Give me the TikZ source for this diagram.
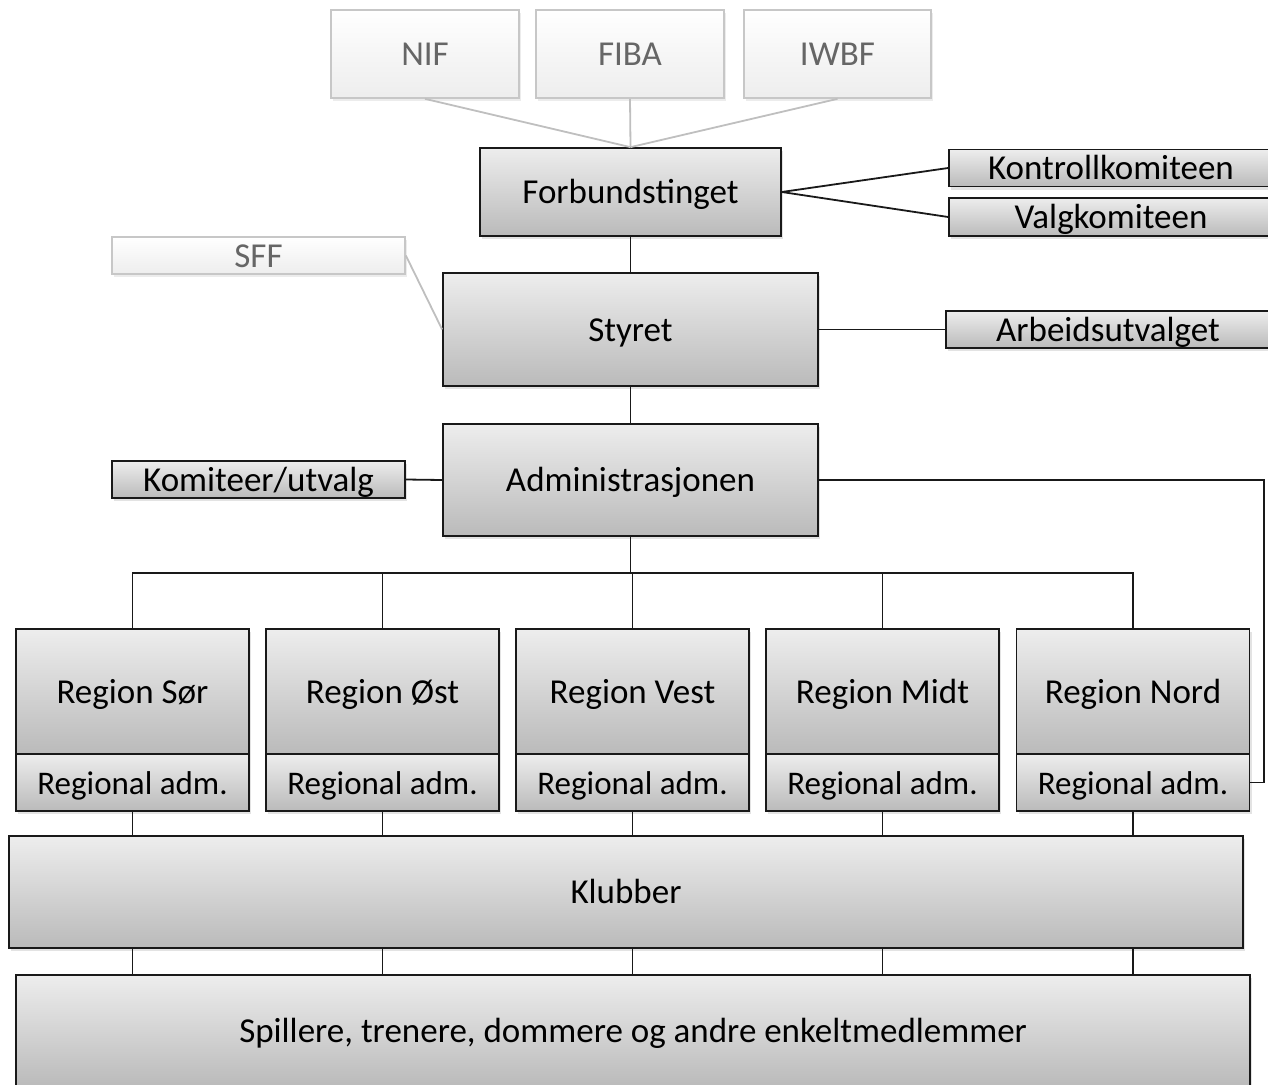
\documentclass[tikz,border=0pt]{standalone}
\usepackage{fontspec}
\setmainfont{Carlito}
\usetikzlibrary{shadows}
\begin{document}
\begin{tikzpicture}[x=1pt,y=-1pt,
  box/.style={draw=black!90, line width=1.7pt, top color=black!7, bottom color=black!27,
    font=\fontsize{35}{40}\selectfont, inner sep=0pt, text height=30pt, text depth=7pt,
    drop shadow={opacity=0.22, shadow xshift=2pt, shadow yshift=-3pt}},
  ghost/.style={draw=black!22, line width=1.7pt, top color=white, bottom color=black!7,
    text=black!60, font=\fontsize{35}{40}\selectfont, inner sep=0pt, text height=30pt, text depth=7pt,
    drop shadow={opacity=0.15, shadow xshift=2pt, shadow yshift=-3pt}},
  conn/.style={line width=1.8pt, draw=black!90},
  gconn/.style={line width=1.8pt, draw=black!25}]
\useasboundingbox (0,0) rectangle (1268,1084);
\clip (0,0) rectangle (1268,1084);
% top external bodies
\node[ghost, minimum width=188pt, minimum height=88pt] (nif) at (425,54) {NIF};
\node[ghost, minimum width=188pt, minimum height=88pt] (fiba) at (630,54) {FIBA};
\node[ghost, minimum width=187pt, minimum height=88pt] (iwbf) at (837.5,54) {IWBF};
\node[box, minimum width=301pt, minimum height=88pt] (forb) at (630.5,192) {Forbundstinget};
\node[box, minimum width=324pt, minimum height=36pt] (kontroll) at (1111,168) {Kontrollkomiteen};
\node[box, minimum width=324pt, minimum height=38pt] (valg) at (1111,217) {Valgkomiteen};
\node[box, minimum width=375pt, minimum height=113pt] (styret) at (630.5,329.5) {Styret};
\node[ghost, minimum width=293pt, minimum height=37pt] (sff) at (258.5,255.5) {SFF};
\node[box, minimum width=324pt, minimum height=37pt] (arb) at (1108,329.5) {Arbeidsutvalget};
\node[box, minimum width=375pt, minimum height=112pt] (admin) at (630.5,480) {Administrasjonen};
\node[box, minimum width=293pt, minimum height=37pt] (komiteer) at (258.5,479.5) {Komiteer/utvalg};
% regions
\foreach \n/\x/\t in {sor/132.5/Region Sør, ost/382.5/Region Øst, vest/632.5/Region Vest, midt/882.5/Region Midt, nord/1133/Region Nord}{
  \node[box, minimum width=233pt, minimum height=125pt] (\n) at (\x,691.5) {\t};
  \node[box, minimum width=233pt, minimum height=57pt, font=\fontsize{33}{38}\selectfont] (\n adm) at (\x,782.5) {Regional adm.};
}
\node[box, minimum width=1234pt, minimum height=112pt] (klubber) at (626,892) {Klubber};
\node[box, minimum width=1234pt, minimum height=112pt] (medl) at (633,1031) {Spillere, trenere, dommere og andre enkeltmedlemmer};
% connectors
\draw[gconn] (nif.south) -- (forb.north);
\draw[gconn] (fiba.south) -- (forb.north);
\draw[gconn] (iwbf.south) -- (forb.north);
\draw[gconn] (sff.east) -- (styret.west);
\draw[conn] (forb.east) -- (kontroll.west);
\draw[conn] (forb.east) -- (valg.west);
\draw[conn] (forb.south) -- (styret.north);
\draw[conn] (styret.east) -- (arb.west);
\draw[conn] (styret.south) -- (admin.north);
\draw[conn] (komiteer.east) -- (admin.west);
\coordinate (rt) at (1264,480);
\draw[conn] (admin.east) -- (rt) |- (nordadm.east);
\coordinate (bus) at (631,573);
\draw[conn] (admin.south) -- (admin.south |- bus);
\draw[conn] (sor.north) -- (sor.north |- bus) -- (nord.north |- bus) -- (nord.north);
\foreach \n in {ost,vest,midt}{
  \draw[conn] (\n.north) -- (\n.north |- bus);
}
\foreach \n in {sor,ost,vest,midt,nord}{
  \draw[conn] (\n adm.south) -- (\n adm.south |- klubber.north);
  \draw[conn] (\n adm.south |- klubber.south) -- (\n adm.south |- medl.north);
}
\end{tikzpicture}
\end{document}
